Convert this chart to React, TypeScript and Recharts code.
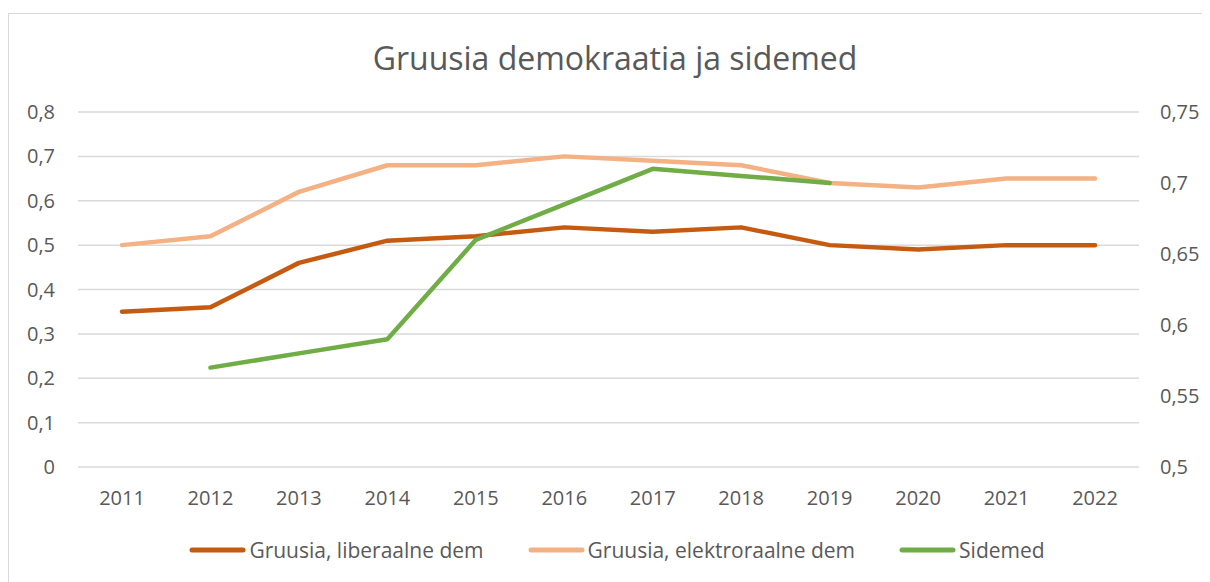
import React from "react";
import {
  LineChart,
  Line,
  XAxis,
  YAxis,
  CartesianGrid,
  Legend,
} from "recharts";

const years = ["2011", "2012", "2013", "2014", "2015", "2016", "2017", "2018", "2019", "2020", "2021", "2022"];
const liberal = [0.35, 0.36, 0.46, 0.51, 0.52, 0.54, 0.53, 0.54, 0.5, 0.49, 0.5, 0.5];
const electoral = [0.5, 0.52, 0.62, 0.68, 0.68, 0.7, 0.69, 0.68, 0.64, 0.63, 0.65, 0.65];
const ties = [null, 0.57, 0.58, 0.59, 0.66, 0.685, 0.71, 0.705, 0.7, null, null, null];

const leftTicks = [0, 0.1, 0.2, 0.3, 0.4, 0.5, 0.6, 0.7, 0.8];
const rightTicks = [0.5, 0.55, 0.6, 0.65, 0.7, 0.75];

const seriesInfo = [
  { key: "liberal", name: "Gruusia, liberaalne dem", color: "#C55A11", axis: "left" },
  { key: "electoral", name: "Gruusia, elektroraalne dem", color: "#F4B183", axis: "left" },
  { key: "ties", name: "Sidemed", color: "#70AD47", axis: "right" },
];

const data = years.map((y, i) => ({
  year: y,
  liberal: liberal[i],
  electoral: electoral[i],
  ties: ties[i],
}));

const FONT = "'Open Sans', sans-serif";
const TEXT = "#595959";
const comma = (v: number) => String(v).replace(".", ",");

function LegendRow() {
  return (
    <div style={{ display: "flex", justifyContent: "center", gap: 44, paddingLeft: 16 }}>
      {seriesInfo.map((s) => (
        <div key={s.key} style={{ display: "flex", alignItems: "center" }}>
          <svg width={57} height={10} style={{ marginRight: 3 }}>
            <line x1={3} y1={5} x2={54} y2={5} stroke={s.color} strokeWidth={5} strokeLinecap="round" />
          </svg>
          <span style={{ fontSize: 21, color: TEXT, fontFamily: FONT }}>{s.name}</span>
        </div>
      ))}
    </div>
  );
}

export default function App() {
  return (
    <>
      <style>{"html{overflow:hidden}"}</style>
      <div
        style={{
          position: "relative",
          marginTop: 5,
          width: 1200,
          height: 580,
          border: "1px solid #d9d9d9",
          borderRight: "none",
          background: "#fff",
          fontFamily: FONT,
        }}
      >
        <div
          style={{
            position: "absolute",
            top: 23,
            left: 6,
            width: 1200,
            textAlign: "center",
            fontSize: 32,
            lineHeight: "42px",
            color: TEXT,
            zIndex: 2,
          }}
        >
          Gruusia demokraatia ja sidemed
        </div>
        <LineChart
          width={1200}
          height={568}
          data={data}
          margin={{ top: 98, right: 10, bottom: 85, left: 0 }}
        >
          <CartesianGrid yAxisId="left" vertical={false} stroke="#d9d9d9" strokeWidth={1.5} />
          <XAxis
            dataKey="year"
            axisLine={false}
            tickLine={false}
            tickMargin={18}
            padding={{ left: 44, right: 44 }}
            tick={{ fill: TEXT, fontSize: 20, fontFamily: FONT }}
          />
          <YAxis
            yAxisId="left"
            width={69}
            domain={[0, 0.8]}
            ticks={leftTicks}
            tickFormatter={comma}
            axisLine={false}
            tickLine={false}
            tickMargin={17}
            tick={{ fill: TEXT, fontSize: 20, fontFamily: FONT }}
          />
          <YAxis
            yAxisId="right"
            orientation="right"
            width={60}
            domain={[0.5, 0.75]}
            ticks={rightTicks}
            tickFormatter={comma}
            axisLine={false}
            tickLine={false}
            tickMargin={15}
            tick={{ fill: TEXT, fontSize: 20, fontFamily: FONT, textAnchor: "start" }}
          />
          {seriesInfo.map((s) => (
            <Line
              key={s.key}
              yAxisId={s.axis}
              type="linear"
              dataKey={s.key}
              name={s.name}
              stroke={s.color}
              strokeWidth={4.5}
              strokeLinecap="round"
              strokeLinejoin="round"
              dot={false}
              activeDot={false}
              isAnimationActive={false}
            />
          ))}
          <Legend
            layout="horizontal"
            verticalAlign="middle"
            align="center"
            wrapperStyle={{ top: 522, left: 0, width: 1200 }}
            content={() => <LegendRow />}
          />
        </LineChart>
      </div>
    </>
  );
}
